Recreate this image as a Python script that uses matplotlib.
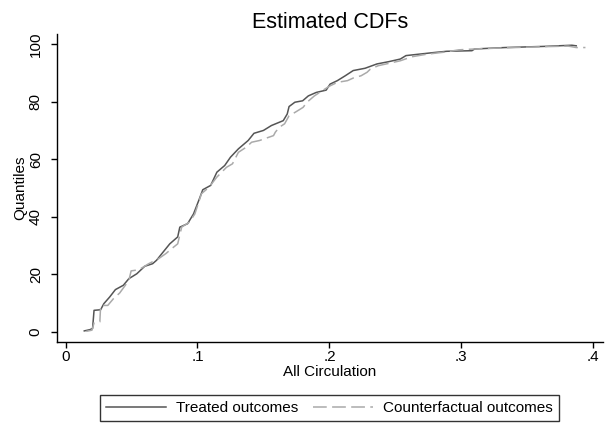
import matplotlib
matplotlib.use("Agg")
import matplotlib.pyplot as plt

plt.rcParams['font.family'] = ['Liberation Sans', 'DejaVu Sans']

# Estimated CDF of the treated outcomes (x = All Circulation, y = quantile)
treated_x = [0.0142, 0.0186, 0.0205, 0.0216, 0.0266, 0.029, 0.0334, 0.0378, 0.0438,
             0.048, 0.054, 0.060, 0.066, 0.069, 0.073, 0.079, 0.085, 0.0866, 0.0925,
             0.097, 0.1014, 0.104, 0.110, 0.1147, 0.1206, 0.125, 0.131, 0.1384, 0.1428,
             0.150, 0.156, 0.165, 0.168, 0.1694, 0.1738, 0.1797, 0.184, 0.190, 0.1975,
             0.2005, 0.206, 0.212, 0.218, 0.227, 0.236, 0.245, 0.2537, 0.258, 0.268,
             0.280, 0.289, 0.308, 0.310, 0.333, 0.363, 0.3837, 0.387]
treated_y = [0.35, 0.8, 1.2, 7.5, 7.7, 9.8, 12.1, 14.7, 16.2,
             18.5, 20.2, 22.8, 23.7, 24.9, 27.2, 30.6, 33.0, 36.4, 37.6,
             41.0, 46.2, 49.4, 50.9, 55.5, 57.8, 60.7, 63.6, 66.5, 69.0,
             70.0, 71.7, 73.4, 75.7, 78.3, 79.8, 80.3, 82.0, 83.2, 84.0,
             86.1, 87.3, 89.0, 90.8, 91.6, 93.1, 93.9, 94.8, 96.0, 96.5,
             97.1, 97.5, 97.7, 98.3, 98.8, 99.2, 99.6, 99.4]

# Estimated CDF of the counterfactual outcomes
counter_x = [0.0157, 0.020, 0.0216, 0.026, 0.0266, 0.032, 0.0364, 0.041, 0.048,
             0.0497, 0.0556, 0.063, 0.0704, 0.076, 0.082, 0.085, 0.088, 0.094,
             0.098, 0.103, 0.1088, 0.1147, 0.122, 0.1265, 0.131, 0.137, 0.141,
             0.147, 0.1576, 0.159, 0.162, 0.166, 0.1694, 0.174, 0.180, 0.183,
             0.1886, 0.1945, 0.2005, 0.206, 0.2137, 0.218, 0.224, 0.2285, 0.231,
             0.237, 0.245, 0.2537, 0.2625, 0.274, 0.289, 0.298, 0.310, 0.333,
             0.363, 0.381, 0.387, 0.394]
counter_y = [0.2, 0.6, 3.1, 3.5, 9.2, 9.2, 11.6, 13.5, 17.9,
             21.2, 21.6, 23.7, 25.4, 27.2, 29.5, 30.6, 36.4, 38.2,
             41.0, 48.0, 50.3, 53.8, 57.2, 58.4, 62.4, 64.2, 65.9,
             66.5, 68.2, 69.4, 71.1, 72.3, 75.1, 76.3, 78.0, 79.8,
             82.0, 83.8, 85.5, 86.7, 87.3, 88.2, 89.0, 90.2, 91.3,
             92.5, 93.3, 94.2, 95.6, 96.5, 97.3, 98.0, 98.3, 98.7,
             99.1, 99.3, 98.8, 98.8]

x_ticks = [0, 0.1, 0.2, 0.3, 0.4]
x_tick_labels = ['0', '.1', '.2', '.3', '.4']
y_ticks = [0, 20, 40, 60, 80, 100]

fig = plt.figure(figsize=(6.09, 4.23), dpi=100)
ax = fig.add_axes([0.0931, 0.1922, 0.8966, 0.7274])

ax.plot(treated_x, treated_y, color='#555555', lw=1.1, label='Treated outcomes')
ax.plot(counter_x, counter_y, color='#aaaaaa', lw=1.1, dashes=(9, 3.5),
        label='Counterfactual outcomes')

ax.set_xlim(-0.0067, 0.4071)
ax.set_ylim(-3.4, 103.5)
ax.set_xticks(x_ticks)
ax.set_xticklabels(x_tick_labels)
ax.set_yticks(y_ticks)
ax.set_yticklabels([str(v) for v in y_ticks], rotation=90, va='center')
ax.tick_params(axis='x', labelsize=11, length=4, width=1, pad=2)
ax.tick_params(axis='y', labelsize=11, length=4, width=1, pad=6)

for s in ['top', 'right']:
    ax.spines[s].set_visible(False)
for s in ['left', 'bottom']:
    ax.spines[s].set_linewidth(1.0)

ax.set_xlabel('All Circulation', fontsize=11, labelpad=1)
ax.set_ylabel('Quantiles', fontsize=11, labelpad=1)
ax.set_title('Estimated CDFs', fontsize=15.5, pad=4)

leg = fig.legend(loc='center', bbox_to_anchor=(0.541, 0.0355), ncol=2,
                 fontsize=11, frameon=True, fancybox=False, edgecolor='black',
                 handlelength=3.9, handletextpad=0.65, columnspacing=1.0,
                 borderpad=0.4, borderaxespad=0)
leg.get_frame().set_linewidth(1.0)

fig.savefig('out.png', dpi=100)
